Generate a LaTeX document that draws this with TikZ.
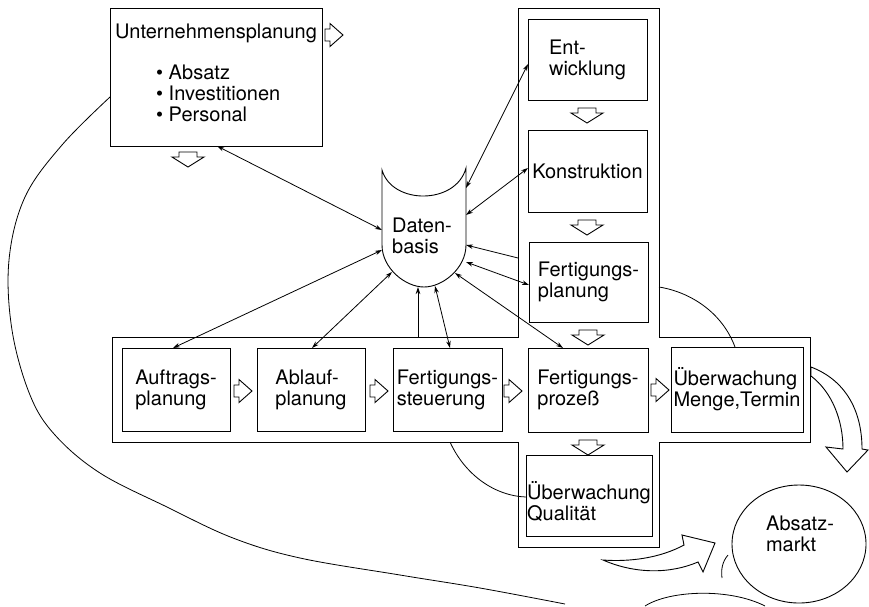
\documentclass[tikz,border=0pt]{standalone}
\usepackage{fontspec}
\setmainfont{TeX Gyre Heros}
\usetikzlibrary{arrows.meta,shapes.geometric}
\begin{document}
\begin{tikzpicture}[x=1pt,y=-1pt,
  every node/.style={font=\fontsize{20}{21}\selectfont,inner sep=0pt},
  box/.style={draw,line width=0.9pt,align=left},
  txt/.style={align=left},
  ln/.style={line width=0.8pt},
  con/.style={line width=0.8pt,{Stealth[length=7pt,width=4.5pt]}-{Stealth[length=7pt,width=4.5pt]}},
  conone/.style={line width=0.8pt,-{Stealth[length=7pt,width=4.5pt]}},
  hol/.style={line width=0.9pt,fill=white,line join=miter},
  rarr/.pic={\draw[hol] (-9,-6) -- (-4,-6) -- (-4,-11.5) -- (9,0) -- (-4,11.5) -- (-4,6) -- (-9,6) -- cycle;},
  darr/.pic={\draw[hol] (-9,-7) -- (9,-7) -- (9,-2) -- (16,-2) -- (0,8) -- (-16,-2) -- (-9,-2) -- cycle;}]
\useasboundingbox (0,0) rectangle (869,606);

% cross-shaped frame
\draw[line width=1pt] (518,8) -- (659,8) -- (659,337) -- (810,337) -- (810,442) -- (659,442)
  -- (659,547) -- (518,547) -- (518,442) -- (112,442) -- (112,337) -- (518,337) -- cycle;

% Unternehmensplanung
\node[box,minimum width=212,minimum height=138] (up) at (216,77) {};
\node (upt) at (216,33) {Unternehmensplanung};
\node[txt,anchor=west] (upl) at (156,93) {\textbullet\ Absatz\\\textbullet\ Investitionen\\\textbullet\ Personal};
\pic at (334,35) {rarr};
\pic at (188,159) {darr};

% vertical column
\node[box,minimum width=119,minimum height=81] (ent) at (587.5,59.5) {Ent-\\wicklung};
\node[box,minimum width=119,minimum height=82] (kon) at (587.5,171) {Konstruktion};
\node[box,minimum width=119,minimum height=80] (fpl) at (588.5,282) {Fertigungs-\\planung};
\node[box,minimum width=120,minimum height=84] (fpr) at (588,390) {Fertigungs-\\prozeß};
\node[box,minimum width=126,minimum height=81] (uq) at (589,495.5) {};
\node[txt] (uqt) at (589,502) {Überwachung\\Qualität};
\pic at (587,115) {darr};
\pic at (587,227) {darr};
\pic at (588,337) {darr};
\pic at (588,447) {darr};

% horizontal row
\node[box,minimum width=108,minimum height=83] (auf) at (176,389.5) {Auftrags-\\planung};
\node[box,minimum width=108,minimum height=83] (abl) at (311,389.5) {Ablauf-\\planung};
\node[box,minimum width=109,minimum height=83] (fst) at (447.5,389.5) {Fertigungs-\\steuerung};
\node[box,minimum width=132,minimum height=85] (umt) at (737,389.5) {Überwachung\\Menge,Termin};
\pic at (243,391) {rarr};
\pic at (379,391) {rarr};
\pic at (513,391) {rarr};
\pic at (660,390) {rarr};

% Datenbasis
\draw[line width=0.9pt] (382,170) -- (382,245) .. controls (382,268.2) and (405.2,287) .. (424,287)
  .. controls (442.8,287) and (466,268.2) .. (466,245) -- (466,168)
  .. controls (456,205) and (392,205) .. (382,170) -- cycle;
\node[txt] (db) at (422,236) {Daten-\\basis};

% Absatzmarkt
\node[draw,ellipse,line width=0.9pt,minimum width=134,minimum height=118] (am) at (799,544) {};
\node[txt] (amt) at (800,534) {Absatz-\\markt};

% connector end points
\coordinate (upB) at (217,146);
\coordinate (dbUp) at (382,230);
\coordinate (entL) at (528,64);
\coordinate (dbEnt) at (466,188);
\coordinate (konL) at (528,168);
\coordinate (dbKon) at (466,215);
\coordinate (barA) at (518,258);
\coordinate (dbBarA) at (466,245);
\coordinate (fplL) at (529,285);
\coordinate (dbFpl) at (466,262);
\coordinate (fprT) at (563,348);
\coordinate (dbFpr) at (455,273);
\coordinate (fstT) at (450,348);
\coordinate (dbFst) at (435,286);
\coordinate (barB) at (418,337);
\coordinate (dbBarB) at (418,287);
\coordinate (ablT) at (312,348);
\coordinate (dbAbl) at (392,272);
\coordinate (aufT) at (173,348);
\coordinate (dbAuf) at (382,250);

\draw[con] (upB) -- (dbUp);
\draw[con] (entL) -- (dbEnt);
\draw[con] (konL) -- (dbKon);
\draw[conone] (barA) -- (dbBarA);
\draw[con] (fplL) -- (dbFpl);
\draw[con] (fprT) -- (dbFpr);
\draw[con] (fstT) -- (dbFst);
\draw[conone] (barB) -- (dbBarB);
\draw[con] (ablT) -- (dbAbl);
\draw[con] (aufT) -- (dbAuf);

% feedback curves
\coordinate (fplR) at (659,287);
\coordinate (umtT) at (735,347);
\draw[ln] (fplR) .. controls (690,292) and (722,312) .. (umtT);
\coordinate (fstB) at (450,442);
\coordinate (uqL) at (526,497);
\draw[ln] (fstB) .. controls (465,475) and (495,496) .. (uqL);

% big curve from Unternehmensplanung
\draw[ln] plot[smooth,tension=0.6] coordinates {(110,97) (62,145) (25,197) (9,260) (12,330) (30,395) (55,435) (100,473) (167,507) (233,538) (300,558) (400,575) (480,588) (565,604)};

% hollow arrow towards Absatzmarkt
\draw[hol] (603,560) .. controls (630,562) and (660,558) .. (684,545) -- (682,535) -- (715,543)
  -- (703,572) -- (698,562) .. controls (670,574) and (635,574) .. (603,560) -- cycle;
% big hollow arrow from Ueberwachung Menge,Termin
\draw[hol] (811,367) .. controls (845,380) and (862,410) .. (862,449) -- (868,450) -- (847,472)
  -- (826,447) -- (843,449) .. controls (843,420) and (832,392) .. (811,376) -- cycle;
% fragments near the market
\draw[ln] (645,606) .. controls (670,590) and (730,588) .. (765,606);
\draw[ln] (728,555) .. controls (722,562) and (721,570) .. (722,578);
\end{tikzpicture}
\end{document}
